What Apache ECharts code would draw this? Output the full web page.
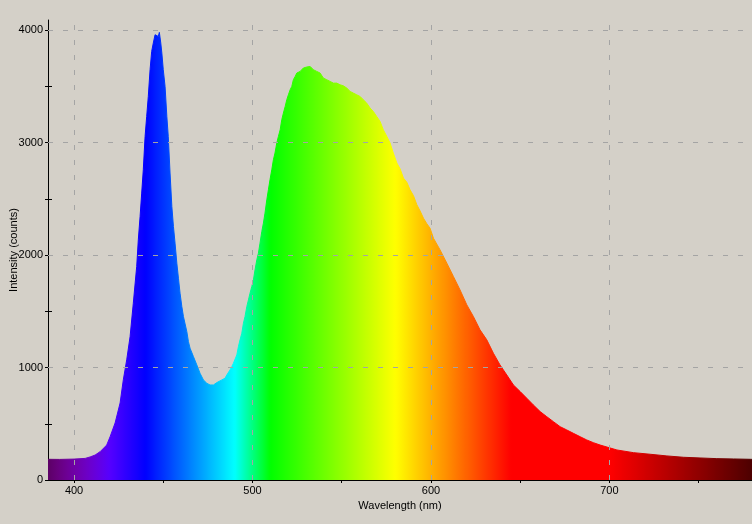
<!DOCTYPE html>
<html>
<head>
<meta charset="utf-8">
<script src="https://cdn.jsdelivr.net/npm/echarts@6/dist/echarts.min.js"></script>
<style>
html,body{margin:0;padding:0;background:#d4d0c8;}
#chart{width:752px;height:524px;}
</style>
</head>
<body>
<div id="chart"></div>
<script>
// ---- data ----
const wavelengths = [
  385.4, 392, 400, 406.2, 409.0, 411.8, 414.6, 418.3, 420.2, 423.0,
  425.8, 427.6, 429.5, 431.4, 433.2, 435.1, 436.0, 437.0, 437.9, 438.8,
  439.8, 440.7, 441.6, 442.6, 443.5, 444.4, 445.4, 446.3, 447.2, 447.8,
  448.6, 449.2, 450.0, 451.0, 452.0, 452.8, 453.8, 454.8, 455.7, 456.6,
  457.6, 458.5, 459.4, 460.4, 461.3, 463.2, 464.1, 465.0, 466.9, 468.8,
  470.6, 472.5, 474.4, 476.2, 478.1, 480.0, 482.8, 484.6, 485.6, 487.4,
  488.4, 489.3, 491.2, 492.1, 493.0, 494.0, 494.9, 495.8, 496.8, 497.7,
  498.6, 499.6, 500.5, 501.4, 502.4, 503.3, 504.2, 505.2, 506.1, 507.0,
  508.0, 508.9, 509.8, 510.8, 511.7, 512.6, 513.6, 514.5, 515.5, 516.4,
  517.3, 518.3, 519.2, 520.1, 521.1, 522.0, 522.9, 523.9, 524.8, 526.7,
  528.5, 530.4, 532.3, 534.1, 536.0, 537.9, 539.7, 541.6, 543.5, 545.3,
  547.2, 549.1, 550.9, 552.8, 554.7, 556.5, 558.4, 560.3, 562.1, 564.0,
  565.9, 567.7, 569.6, 571.5, 573.3, 575.3, 577.1, 578.9, 580.9, 582.7,
  584.6, 586.5, 588.3, 590.2, 592.1, 593.9, 595.8, 597.7, 599.5, 601.4,
  605.1, 608.9, 612.6, 616.3, 620.1, 623.8, 627.5, 631.3, 635.0, 638.7,
  642.5, 646.2, 650.0, 653.7, 657.4, 661.2, 664.9, 668.6, 672.4, 676.1,
  679.8, 683.6, 687.3, 691.0, 694.8, 704.2, 713.5, 722.8, 732.2, 741.5,
  750.8, 760.2, 769.5, 778.9, 780.5
];
const intensities = [
  184, 183, 186, 192, 205, 222, 252, 311, 385, 507,
  685, 890, 1068, 1275, 1572, 1898, 2135, 2343, 2551, 2758,
  3054, 3232, 3410, 3648, 3811, 3885, 3959, 3959, 3944, 3980,
  3885, 3796, 3648, 3499, 3232, 3054, 2729, 2432, 2254, 2106,
  1928, 1794, 1661, 1542, 1453, 1319, 1230, 1172, 1097, 1023,
  949, 890, 860, 845, 845, 866, 890, 905, 934, 979,
  1008, 1038, 1112, 1186, 1246, 1305, 1394, 1453, 1542, 1601,
  1661, 1720, 1779, 1868, 1957, 2017, 2106, 2209, 2284, 2373,
  2491, 2580, 2669, 2758, 2847, 2907, 2996, 3054, 3114, 3203,
  3262, 3321, 3381, 3425, 3470, 3499, 3559, 3588, 3618, 3633,
  3663, 3672, 3677, 3648, 3633, 3618, 3574, 3559, 3544, 3529,
  3529, 3514, 3505, 3485, 3455, 3440, 3425, 3410, 3381, 3351,
  3307, 3277, 3232, 3188, 3114, 3054, 2996, 2907, 2818, 2767,
  2684, 2647, 2580, 2528, 2447, 2393, 2328, 2278, 2239, 2150,
  2046, 1928, 1809, 1690, 1557, 1453, 1335, 1246, 1127, 1023,
  934, 845, 786, 727, 667, 608, 563, 519, 474, 445,
  415, 385, 356, 332, 311, 267, 243, 229, 214, 202,
  196, 190, 187, 184, 183
];
const xMin = 385.4, xMax = 779.9;
const yMin = 0, yMax = 4090;
const xLabelTicks = [400, 500, 600, 700];
const xAllTicks = [400, 450, 500, 550, 600, 650, 700, 750];
const yLabelTicks = [0, 1000, 2000, 3000, 4000];
const yAllTicks = [0, 500, 1000, 1500, 2000, 2500, 3000, 3500, 4000];
const xAxisTitle = 'Wavelength (nm)';
const yAxisTitle = 'Intensity (counts)';

// ---- styling helpers ----
function wlColor(w) {
  let r = 0, g = 0, b = 0;
  if (w < 440) { r = -(w - 440) / 60; b = 1; }
  else if (w < 490) { g = (w - 440) / 50; b = 1; }
  else if (w < 510) { g = 1; b = -(w - 510) / 20; }
  else if (w < 580) { r = (w - 510) / 70; g = 1; }
  else if (w < 645) { r = 1; g = -(w - 645) / 65; }
  else { r = 1; }
  let f = 1;
  if (w < 420) f = 0.3 + 0.7 * (w - 380) / 40;
  else if (w > 700) f = 0.3 + 0.7 * Math.max(0, 780 - w) / 80;
  const c = v => Math.max(0, Math.min(255, Math.round(v * f * 255)));
  return 'rgb(' + c(r) + ',' + c(g) + ',' + c(b) + ')';
}
const wFirst = wavelengths[0], wLast = wavelengths[wavelengths.length - 1];
const stops = [];
for (let w = wFirst; w <= wLast + 0.001; w += 1) {
  stops.push({ offset: Math.min(1, (w - wFirst) / (wLast - wFirst)), color: wlColor(w) });
}
const grad = () => new echarts.graphic.LinearGradient(0, 0, 1, 0, stops);

const seriesData = wavelengths.map((w, i) => [w, intensities[i]]);
const font = '"Liberation Sans", Arial, sans-serif';
const gridLine = { color: '#a4a4a4', width: 1, type: [5, 10] };

const chart = echarts.init(document.getElementById('chart'), null, { renderer: 'canvas' });
chart.setOption({
  backgroundColor: '#d4d0c8',
  animation: false,
  grid: { left: 48, right: 0, top: 20, bottom: 44, containLabel: false, outerBoundsMode: 'none' },
  xAxis: [{
    type: 'value', min: xMin, max: xMax,
    name: xAxisTitle, nameLocation: 'middle', nameGap: 20, nameMoveOverlap: false,
    nameTextStyle: { color: '#000', fontFamily: font, fontSize: 11 },
    axisLine: { show: true, lineStyle: { color: '#000', width: 1 } },
    axisTick: { show: true, length: 3, customValues: xAllTicks, lineStyle: { color: '#000' } },
    axisLabel: { show: true, customValues: xLabelTicks, margin: 5, color: '#000', fontFamily: font, fontSize: 11, formatter: v => String(v) },
    splitLine: { show: false }
  }],
  yAxis: [{
    type: 'value', min: yMin, max: yMax, position: 'left',
    name: yAxisTitle, nameLocation: 'middle', nameGap: 29, nameRotate: 90, nameMoveOverlap: false,
    nameTextStyle: { color: '#000', fontFamily: font, fontSize: 11 },
    axisLine: { show: true, lineStyle: { color: '#000', width: 1 } },
    axisTick: { show: true, length: 3, customValues: yAllTicks, lineStyle: { color: '#000' } },
    axisLabel: { show: true, customValues: yLabelTicks, margin: 5, color: '#000', fontFamily: font, fontSize: 11, formatter: v => String(v) },
    splitLine: { show: false }
  }, {
    type: 'value', min: yMin, max: yMax, position: 'left',
    axisLine: { show: false },
    axisTick: { show: true, inside: true, length: 4, customValues: yAllTicks, lineStyle: { color: '#000' } },
    axisLabel: { show: false },
    splitLine: { show: false }
  }],
  series: [{
    type: 'line', data: [], z: 1, silent: true,
    markLine: {
      silent: true, symbol: ['none', 'none'], label: { show: false },
      lineStyle: gridLine, animation: false,
      data: xLabelTicks.map(v => ({ xAxis: v })).concat(yLabelTicks.filter(v => v > 0).map(v => ({ yAxis: v })))
    }
  }, {
    type: 'line', data: seriesData, z: 2, clip: true,
    showSymbol: false, symbol: 'none',
    lineStyle: { width: 1, color: grad() },
    areaStyle: { color: grad(), opacity: 1 }
  }]
});
</script>
</body>
</html>
